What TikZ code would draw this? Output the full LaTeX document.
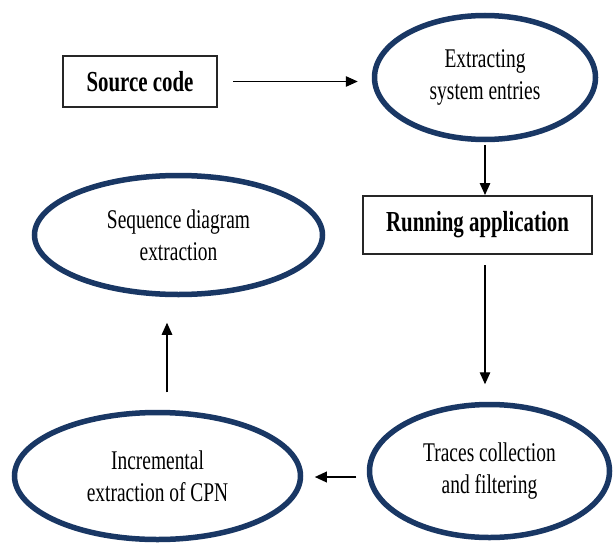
\documentclass[tikz,border=0pt]{standalone}
\usepackage{fontspec}
\setmainfont{Liberation Serif}[FakeStretch=0.72]
\usetikzlibrary{shapes.geometric,arrows.meta}
\definecolor{navy}{RGB}{25,55,100}
\begin{document}
\begin{tikzpicture}[x=1pt,y=-1pt,
  oval/.style={draw=navy, line width=5.5pt, ellipse, inner sep=0pt, align=center,
    font=\fontsize{27}{32}\selectfont},
  boxnode/.style={draw=black!85, line width=2pt, inner sep=0pt,
    font=\bfseries\fontsize{29}{32}\selectfont},
  arr/.style={line width=1.3pt, -{Triangle[length=12pt,width=10.5pt]}}]
\useasboundingbox[fill=white] (0,0) rectangle (615,543);

\node[boxnode, minimum width=154pt, minimum height=51pt] (src) at (140,81.5) {Source code};
\node[oval, minimum width=221pt, minimum height=124pt] (E1) at (485,77.5) {Extracting\\system entries};
\node[boxnode, minimum width=229pt, minimum height=58pt] (run) at (477.5,225) {Running application};
\node[oval, minimum width=240pt, minimum height=133pt] (tr) at (489.5,471) {Traces collection\\and filtering};
\node[oval, minimum width=286pt, minimum height=127pt] (inc) at (157.5,476) {Incremental\\extraction of CPN};
\node[oval, minimum width=288pt, minimum height=119pt] (seq) at (178.5,235) {Sequence diagram\\extraction};

\draw[arr, shorten <=15pt, shorten >=14pt] (src.east) -- (src.east -| E1.west);
\draw[arr, shorten <=2.5pt] (E1.south) -- (E1.south |- run.north);
\draw[arr, shorten <=10pt, shorten >=17.5pt] (run.south -| E1.south) -- (E1.south |- tr.north);
\coordinate (c4) at ([yshift=-6pt]tr.west);
\draw[arr, line width=2pt, shorten <=10.5pt, shorten >=11.5pt] (c4) -- (c4 -| inc.east);
\coordinate (c5) at ([xshift=9.5pt]inc.north);
\draw[arr, shorten <=17.5pt, shorten >=25.5pt] (c5) -- (c5 |- seq.south);
\end{tikzpicture}
\end{document}
